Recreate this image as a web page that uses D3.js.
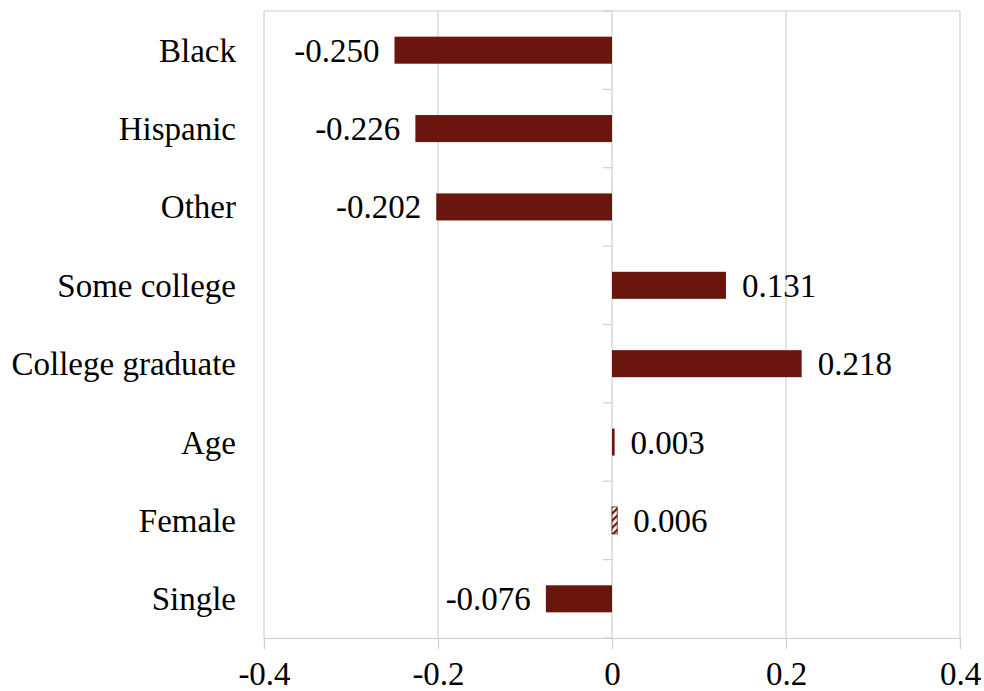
<!DOCTYPE html>
<html><head><meta charset="utf-8">
<script src="https://cdn.jsdelivr.net/npm/d3@7"></script>
<style>body{margin:0;background:#fff}svg{display:block}</style>
</head><body>
<svg id="c" width="984" height="691"></svg>
<script>
const categories = ["Black","Hispanic","Other","Some college","College graduate","Age","Female","Single"];
const values = [-0.250,-0.226,-0.202,0.131,0.218,0.003,0.006,-0.076];
const hatched = [false,false,false,false,false,false,true,false];
const xTicks = [-0.4,-0.2,0,0.2,0.4];
const xTickLabels = ["-0.4","-0.2","0","0.2","0.4"];

const svg = d3.select("#c");
const m = {l:264, r:960, t:11, b:638};
const x = d3.scaleLinear().domain([-0.4,0.4]).range([m.l,m.r]);
const y = d3.scaleBand().domain(categories).range([m.t,m.b]).paddingInner(0.655).paddingOuter(0.3275);
const yb = d3.scaleBand().domain(categories).range([m.t,m.b]);
const font = "'Liberation Serif','Times New Roman',serif";
const fs = 33;
const dark = "#6a150d", grid = "#cfcfcf";

const defs = svg.append("defs");
const pat = defs.append("pattern").attr("id","hatch").attr("patternUnits","userSpaceOnUse")
  .attr("width",5).attr("height",5).attr("patternTransform","rotate(45)");
pat.append("rect").attr("width",5).attr("height",5).attr("fill","#fff");
pat.append("rect").attr("width",2.2).attr("height",5).attr("fill",dark);

// gridlines
svg.append("g").selectAll("line").data(xTicks).join("line")
  .attr("x1",d=>x(d)).attr("x2",d=>x(d)).attr("y1",m.t).attr("y2",m.b)
  .attr("stroke",grid).attr("stroke-width",1.2);
svg.append("line").attr("x1",m.l).attr("x2",m.r).attr("y1",m.t).attr("y2",m.t).attr("stroke",grid).attr("stroke-width",1.2);

// bottom axis
const xa = svg.append("g").attr("transform",`translate(0,${m.b})`)
  .call(d3.axisBottom(x).tickValues(xTicks).tickFormat((d,i)=>xTickLabels[i]).tickSize(11).tickPadding(13));
xa.select(".domain").attr("stroke",grid).attr("stroke-width",1.2);
xa.selectAll(".tick line").attr("stroke",grid).attr("stroke-width",1.2);
xa.selectAll("text").attr("font-family",font).attr("font-size",fs).attr("fill","#000");

// zero-line ticks (category boundaries)
const bounds = categories.map(c=>yb(c)).concat([m.b]);
svg.append("g").selectAll("line").data(bounds).join("line")
  .attr("x1",x(0)-9).attr("x2",x(0)).attr("y1",d=>d).attr("y2",d=>d)
  .attr("stroke",grid).attr("stroke-width",1.2);

// bars
svg.append("g").selectAll("rect").data(values).join("rect")
  .attr("x",d=>x(Math.min(0,d))).attr("width",d=>Math.abs(x(d)-x(0)))
  .attr("y",(d,i)=>y(categories[i])).attr("height",y.bandwidth())
  .attr("fill",(d,i)=>hatched[i]?"url(#hatch)":dark)
  .attr("stroke",(d,i)=>hatched[i]?dark:"none").attr("stroke-width",0.8);

// value labels
svg.append("g").selectAll("text").data(values).join("text")
  .attr("x",d=>d<0 ? x(d)-15 : x(d)+16)
  .attr("y",(d,i)=>y(categories[i])+y.bandwidth()/2)
  .attr("dy","0.35em")
  .attr("text-anchor",d=>d<0?"end":"start")
  .attr("font-family",font).attr("font-size",fs).attr("fill","#000")
  .text(d=>d.toFixed(3));

// category labels
svg.append("g").selectAll("text").data(categories).join("text")
  .attr("x",236).attr("y",d=>y(d)+y.bandwidth()/2).attr("dy","0.35em")
  .attr("text-anchor","end").attr("font-family",font).attr("font-size",fs).attr("fill","#000")
  .text(d=>d);
</script>
</body></html>
